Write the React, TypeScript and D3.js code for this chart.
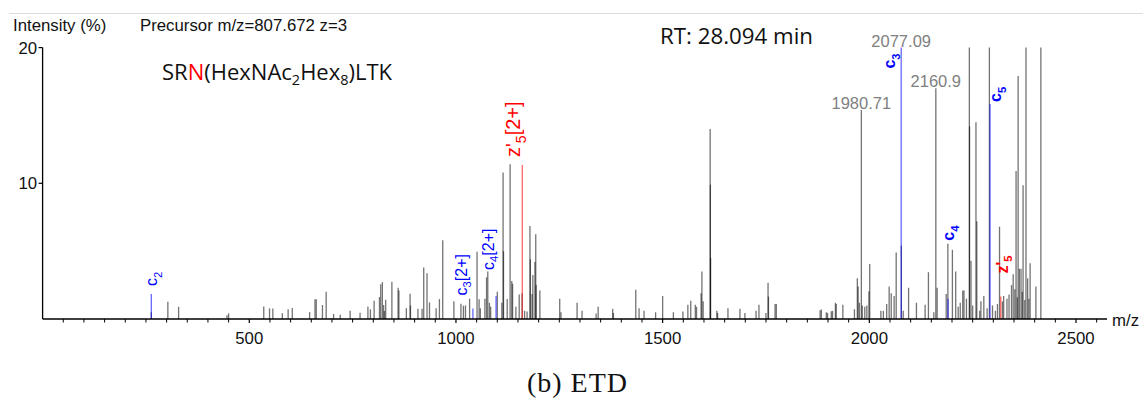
import React from "react";
import * as d3 from "d3";

// ---------- data ----------
const PEAK_MZ = [
  263, 303, 329, 446, 450, 535, 549, 557, 580, 594, 604, 646, 659, 662, 677, 686, 704, 720, 744, 768,
  787, 793, 802, 815, 818, 822, 825, 827, 830, 845, 860, 862, 880, 889, 890, 908, 918, 922, 930, 936,
  952, 960, 968, 995, 1012, 1018, 1023, 1033, 1051, 1056, 1059, 1070, 1074, 1077, 1081, 1084, 1100, 1111, 1114, 1115,
  1124, 1131, 1135, 1137, 1145, 1153, 1160, 1166, 1172, 1179, 1180, 1184, 1186, 1191, 1193, 1194, 1203, 1251, 1254, 1293,
  1305, 1339, 1344, 1379, 1381, 1435, 1443, 1455, 1483, 1500, 1526, 1549, 1561, 1568, 1579, 1582, 1593, 1595, 1598, 1615,
  1615.5, 1616, 1631, 1633, 1658, 1687, 1699, 1726, 1733, 1750, 1755, 1756, 1772, 1775, 1881, 1884, 1896, 1899, 1908, 1911,
  1918, 1920, 1936, 1964, 1971, 1973, 1976, 1980.71, 1983, 1989, 1994, 1999, 2001, 2028, 2034, 2042, 2048, 2053, 2060, 2065,
  2077.5, 2082, 2095, 2114, 2135, 2143, 2156, 2160.9, 2164, 2186, 2190, 2201, 2209, 2215, 2220, 2226, 2229, 2235, 2242, 2242.5,
  2246, 2250, 2258, 2260, 2267, 2270, 2277, 2285, 2290.5, 2298, 2305, 2310, 2315, 2322, 2325, 2333, 2338, 2344, 2348, 2352,
  2355, 2358, 2360, 2363, 2367, 2370, 2372, 2376, 2379, 2383, 2386, 2389, 2403, 2415,
];
const PEAK_INT = [
  0.5, 1.27, 0.9, 0.27, 0.42, 0.93, 0.78, 0.78, 0.42, 0.71, 0.81, 0.51, 1.45, 1.45, 1.03, 2.0, 0.37, 0.32, 0.61, 0.46,
  0.93, 0.71, 1.35, 1.62, 2.57, 2.72, 1.03, 0.6, 1.42, 2.74, 2.3, 2.1, 0.8, 1.86, 1.0, 0.76, 0.75, 3.8, 3.37, 1.22,
  0.8, 1.47, 5.8, 1.3, 1.12, 0.98, 1.0, 1.5, 4.95, 1.45, 0.8, 1.5, 3.07, 3.5, 1.2, 0.9, 2.0, 1.2, 10.8, 5.0,
  1.47, 11.4, 2.8, 2.6, 0.9, 1.8, 1.9, 0.6, 0.55, 6.85, 4.4, 1.85, 3.25, 4.2, 6.25, 2.5, 2.1, 1.5, 0.5, 1.2,
  0.6, 0.4, 0.9, 0.75, 0.45, 2.15, 0.8, 0.6, 0.5, 1.7, 0.5, 0.55, 1.05, 1.35, 1.05, 0.9, 1.9, 3.5, 1.3, 14.0,
  9.9, 4.5, 0.6, 0.45, 0.8, 0.75, 0.45, 0.6, 1.05, 0.45, 2.67, 1.65, 1.1, 1.1, 0.65, 0.7, 0.5, 0.45, 0.58, 0.6,
  1.2, 1.1, 1.05, 0.72, 3.0, 2.4, 1.2, 15.4, 1.0, 0.9, 1.0, 2.05, 4.05, 0.6, 0.6, 1.1, 2.4, 1.9, 1.7, 4.9,
  5.4, 0.6, 2.3, 1.2, 1.05, 3.45, 0.5, 17.0, 2.3, 1.85, 5.55, 5.1, 3.5, 0.9, 1.2, 2.1, 2.1, 1.5, 25, 14.2,
  4.3, 1.0, 14.5, 7.2, 0.6, 1.3, 1.7, 0.8, 25, 1.0, 0.6, 1.1, 6.8, 1.3, 1.7, 1.5, 1.8, 2.5, 3.3, 2.2,
  10.9, 1.6, 17.9, 3.7, 3.7, 2.0, 9.85, 1.4, 25, 3.0, 1.5, 4.1, 2.4, 25,
];

// annotated fragment ions
const ION_BASE = ["c", "c", "c", "z'", "c", "c", "c", "z'"];
const ION_SUB = ["2", "3", "4", "5", "3", "4", "5", "5"];
const ION_CHARGE = ["", "[2+]", "[2+]", "[2+]", "", "", "", ""];
const ION_MZ = [263, 1041, 1097, 1160.5, 2077.09, 2190.5, 2292, 2318];
const ION_INT = [1.85, 0.78, 1.7, 11.35, 20, 1.5, 15.85, 1.65];
const ION_TYPE = ["c", "c", "c", "z", "c", "c", "c", "z"];

// gray m/z labels
const MZ_LABELS = ["1980.71", "2077.09", "2160.9"];
const MZ_LABEL_INT = [15.4, 20, 17.0];

const X_MAJOR = [500, 1000, 1500, 2000, 2500];
const Y_TICKS = [10, 20];

// ---------- layout / style ----------
const W = 1143;
const H = 404;
const AX_LEFT = 42.6;
const AX_RIGHT = 1107;
const BASE_Y = 319;
const TOP_Y = 47.6;
const SANS = "'Liberation Sans', Arial, Helvetica, sans-serif";
const ION_COLOR: Record<string, string> = { c: "#0000ff", z: "#ff0000" };
// label placement: [dx from peak, dy from peak top] for start of rotated label
const ION_OFFSET = [
  [6, -8], [-6, -13], [-2.5, -26], [-2, -8], [-6, 21], [6, -58], [11, -2], [7, -23],
];
const ION_SIZE = [16, 16, 16, 20, 16, 16, 16, 16];
const ION_BOLD = [false, false, false, false, true, true, true, true];

export default function App() {
  const x = d3.scaleLinear().domain([0, 2575]).range([AX_LEFT, AX_RIGHT]);
  const y = d3.scaleLinear().domain([0, 20]).range([BASE_Y, TOP_Y]).clamp(true);
  const minor = d3.range(50, 2575, 50).filter((v) => v % 500 !== 0);

  return (
    <svg
      width={W}
      height={H}
      viewBox={`0 0 ${W} ${H}`}
      style={{ position: "absolute", left: 0, top: 0, background: "#fff" }}
    >
      <rect x={0} y={0} width={W} height={H} fill="#fff" />
      {/* frame top line */}
      <line x1={9} x2={W} y1={13.5} y2={13.5} stroke="#dedede" strokeWidth={1} />

      {/* header texts */}
      <text x={13} y={31} fontFamily={SANS} fontSize={16.8} fill="#111">
        Intensity (%)
      </text>
      <text x={140} y={31} fontFamily={SANS} fontSize={16.8} fill="#111">
        Precursor m/z=807.672 z=3
      </text>
      <text x={660} y={44} fontFamily="'Open Sans', sans-serif" fontSize={22.3} fill="#111">
        RT: 28.094 min
      </text>
      <text x={162} y={80} fontFamily="'Open Sans', sans-serif" fontSize={22} fill="#111">
        SR<tspan fill="#ff0000">N</tspan>(HexNAc
        <tspan fontSize={14.5} dy={5}>2</tspan>
        <tspan dy={-5}>Hex</tspan>
        <tspan fontSize={14.5} dy={5}>8</tspan>
        <tspan dy={-5}>)LTK</tspan>
      </text>

      {/* peaks */}
      <g>
        {PEAK_MZ.map((mz, i) => (
          <line
            key={"p" + i}
            x1={x(mz)}
            x2={x(mz)}
            y1={BASE_Y}
            y2={y(PEAK_INT[i])}
            stroke="#000"
            strokeOpacity={0.55}
            strokeWidth={1.3}
          />
        ))}
        {ION_MZ.map((mz, i) => (
          <line
            key={"ion" + i}
            x1={x(mz)}
            x2={x(mz)}
            y1={BASE_Y}
            y2={y(ION_INT[i])}
            stroke={ION_COLOR[ION_TYPE[i]]}
            strokeOpacity={0.6}
            strokeWidth={1.3}
          />
        ))}
      </g>

      {/* axes */}
      <line x1={AX_LEFT} x2={AX_LEFT} y1={TOP_Y} y2={BASE_Y} stroke="#000" strokeWidth={1.3} />
      <line x1={AX_LEFT} x2={AX_RIGHT} y1={BASE_Y} y2={BASE_Y} stroke="#000" strokeWidth={1.3} />
      {Y_TICKS.map((t) => (
        <g key={"yt" + t}>
          <line x1={AX_LEFT - 4} x2={AX_LEFT} y1={y(t)} y2={y(t)} stroke="#000" strokeWidth={1.2} />
          <text x={AX_LEFT - 5.5} y={y(t) + 6} textAnchor="end" fontFamily={SANS} fontSize={16.8} fill="#111">
            {t}
          </text>
        </g>
      ))}
      {minor.map((t) => (
        <line key={"mt" + t} x1={x(t)} x2={x(t)} y1={BASE_Y} y2={BASE_Y + 3.5} stroke="#000" strokeWidth={1} />
      ))}
      {X_MAJOR.map((t) => (
        <g key={"xt" + t}>
          <line x1={x(t)} x2={x(t)} y1={BASE_Y} y2={BASE_Y + 4} stroke="#000" strokeWidth={1.2} />
          <text x={x(t)} y={BASE_Y + 25} textAnchor="middle" fontFamily={SANS} fontSize={16.8} fill="#111">
            {t}
          </text>
        </g>
      ))}
      <text x={1112} y={325.5} fontFamily={SANS} fontSize={16.8} fill="#111">
        m/z
      </text>

      {/* gray m/z labels */}
      {MZ_LABELS.map((l, i) => (
        <text
          key={"ml" + i}
          x={x(+l)}
          y={y(MZ_LABEL_INT[i]) - 1}
          textAnchor="middle"
          fontFamily={SANS}
          fontSize={16.5}
          fill="#808080"
        >
          {l}
        </text>
      ))}

      {/* ion labels */}
      {ION_MZ.map((mz, i) => {
        const px = x(mz) + ION_OFFSET[i][0];
        const py = y(ION_INT[i]) + ION_OFFSET[i][1];
        const sub = ION_SIZE[i] * 0.28;
        return (
          <text
            key={"il" + i}
            transform={`translate(${px},${py}) rotate(-90)`}
            fontFamily={SANS}
            fontSize={ION_SIZE[i]}
            fontWeight={ION_BOLD[i] ? "bold" : "normal"}
            fill={ION_COLOR[ION_TYPE[i]]}
          >
            {ION_BASE[i]}
            <tspan fontSize={ION_SIZE[i] * 0.7} dy={sub}>
              {ION_SUB[i]}
            </tspan>
            {ION_CHARGE[i] ? <tspan dy={-sub}>{ION_CHARGE[i]}</tspan> : null}
          </text>
        );
      })}

      {/* caption */}
      <text
        x={577}
        y={392}
        textAnchor="middle"
        fontFamily="'Liberation Serif', 'Times New Roman', serif"
        fontSize={28}
        textLength={100}
        lengthAdjust="spacing"
        fill="#111"
      >
        (b) ETD
      </text>
    </svg>
  );
}
